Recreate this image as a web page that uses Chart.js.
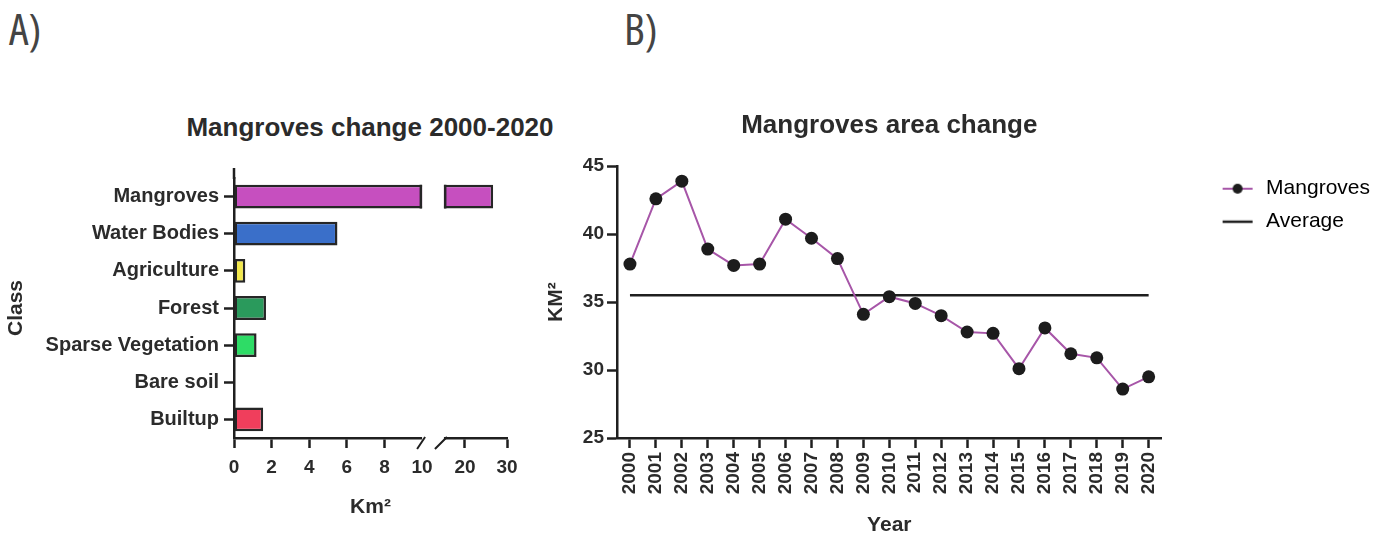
<!DOCTYPE html>
<html>
<head>
<meta charset="utf-8">
<script src="https://cdn.jsdelivr.net/npm/chart.js@4.4.1/dist/chart.umd.min.js"></script>
<style>
html,body{margin:0;padding:0;background:#fff;}
body{width:1396px;height:539px;position:relative;overflow:hidden;font-family:"Liberation Sans",Arial,sans-serif;}
.panel{position:absolute;top:6px;font-family:"Open Sans","Liberation Sans",sans-serif;font-weight:400;font-stretch:85%;font-size:44px;line-height:44px;color:#444;}
.ttl{position:absolute;top:112px;left:170px;width:400px;text-align:center;white-space:nowrap;font-size:26px;line-height:31px;font-weight:bold;color:#2b2b2b;}
#wrapA{position:absolute;left:0;top:0;width:540px;height:539px;}
#wrapB{position:absolute;left:540px;top:0;width:856px;height:539px;}
</style>
</head>
<body>
<div class="panel" style="left:9px">A)</div>
<div class="panel" style="left:624px">B)</div>
<div class="ttl">Mangroves change 2000-2020</div>
<div id="wrapA"><canvas id="classChart"></canvas></div>
<div id="wrapB"><canvas id="areaChart"></canvas></div>
<script>
/* data */
const classes=["Mangroves","Water Bodies","Agriculture","Forest","Sparse Vegetation","Bare soil","Builtup"];
const classArea=[26.7,5.5,0.6,1.7,1.2,0.05,1.55];
const classColors=["#C64FBF","#3A6FC9","#F2E84B","#2A9A5C","#2EDC66","#8a8a8a","#F03E5C"];
const kmTicks=[0,2,4,6,8,10,20,30];

const years=["2000","2001","2002","2003","2004","2005","2006","2007","2008","2009","2010",
"2011","2012","2013","2014","2015","2016","2017","2018","2019","2020"];
const mangroveArea=[37.8,42.6,43.9,38.9,37.7,37.8,41.1,39.7,38.2,34.1,35.4,
34.9,34.0,32.8,32.7,30.1,33.1,31.2,30.9,28.6,29.5];
const averageArea=35.5;
const areaTicks=[25,30,35,40,45];

const ink="#2b2b2b";
const axisInk="#1f1f1f";
const lineColor="#A756A8";
const dotColor="#1c1c1c";

Chart.defaults.font.family='"Liberation Sans", Arial, sans-serif';

/* ===== broken x axis (0-10 | 15-30) ===== */
const LinearScale=Chart.LinearScale||Chart.registry.getScale("linear");
const BREAK_FROM=10, BREAK_TO=15;
const FROM_FRAC=0.689, TO_FRAC=0.769;

class BrokenScale extends LinearScale{
  getPixelForValue(value){
    let f;
    if(value<=BREAK_FROM){
      f=(value-this.min)/(BREAK_FROM-this.min)*FROM_FRAC;
    }else if(value<BREAK_TO){
      f=FROM_FRAC+(value-BREAK_FROM)/(BREAK_TO-BREAK_FROM)*(TO_FRAC-FROM_FRAC);
    }else{
      f=TO_FRAC+(value-BREAK_TO)/(this.max-BREAK_TO)*(1-TO_FRAC);
    }
    return this.getPixelForDecimal(f);
  }
  getValueForPixel(pixel){
    const f=this.getDecimalForPixel(pixel);
    if(f<=FROM_FRAC) return this.min+f/FROM_FRAC*(BREAK_FROM-this.min);
    if(f<TO_FRAC) return BREAK_FROM+(f-FROM_FRAC)/(TO_FRAC-FROM_FRAC)*(BREAK_TO-BREAK_FROM);
    return BREAK_TO+(f-TO_FRAC)/(1-TO_FRAC)*(this.max-BREAK_TO);
  }
}
BrokenScale.id="broken";
BrokenScale.defaults=LinearScale.defaults;
Chart.register(BrokenScale);

const brokenAxisPlugin={
  id:"brokenAxis",
  afterDraw(chart){
    const {ctx,chartArea}=chart;
    const xs=chart.scales.x;
    const a=xs.getPixelForValue(BREAK_FROM);
    const b=xs.getPixelForValue(BREAK_TO);
    const ds=chart.data.datasets[0];
    const lw=ds.borderWidth;
    ctx.save();
    // white gap through bars and axis
    ctx.fillStyle="#fff";
    ctx.fillRect(a,chartArea.top-12,b-a,chartArea.bottom-chartArea.top+14);
    // close the bar ends on both sides of the gap
    ctx.strokeStyle=ds.borderColor;
    ctx.lineWidth=lw;
    chart.getDatasetMeta(0).data.forEach(bar=>{
      if(bar.x>b){
        const h=bar.height/2;
        ctx.beginPath();
        ctx.moveTo(a-lw/2,bar.y-h);ctx.lineTo(a-lw/2,bar.y+h);
        ctx.moveTo(b+lw/2,bar.y-h);ctx.lineTo(b+lw/2,bar.y+h);
        ctx.stroke();
      }
    });
    // break slashes
    const y0=chartArea.bottom;
    ctx.strokeStyle=axisInk;
    ctx.lineWidth=2;
    ctx.beginPath();
    ctx.moveTo(a-5,y0+11);ctx.lineTo(a+3,y0-1);
    ctx.moveTo(b-9,y0+11);ctx.lineTo(b+3,y0-1);
    ctx.stroke();
    // y axis line runs a bit above the first bar
    ctx.lineWidth=2.5;
    ctx.beginPath();
    ctx.moveTo(chartArea.left,chartArea.top-10);
    ctx.lineTo(chartArea.left,chartArea.top+1);
    ctx.stroke();
    ctx.restore();
  }
};

new Chart(document.getElementById("classChart"),{
  type:"bar",
  data:{
    labels:classes,
    datasets:[{
      data:classArea,
      backgroundColor:classColors,
      borderColor:"#262626",
      borderWidth:2.5,
      borderSkipped:false,
      barPercentage:0.64,
      categoryPercentage:1,
      clip:false
    }]
  },
  options:{
    indexAxis:"y",
    responsive:true,
    maintainAspectRatio:false,
    animation:false,
    layout:{padding:{top:178,right:33}},
    plugins:{
      legend:{display:false},
      tooltip:{enabled:false}
    },
    scales:{
      x:{
        type:"broken",
        min:0,
        max:30,
        afterBuildTicks:s=>{s.ticks=kmTicks.map(v=>({value:v}));},
        afterFit:s=>{s.height=101;},
        grid:{
          drawOnChartArea:false,
          tickLength:10,
          tickWidth:2.5,
          tickColor:c=>(c.tick&&c.tick.value===BREAK_FROM)?"rgba(0,0,0,0)":axisInk
        },
        border:{color:axisInk,width:2.5},
        ticks:{color:ink,font:{size:19,weight:"bold"},padding:8,maxRotation:0,autoSkip:false},
        title:{display:true,text:"Km²",color:ink,font:{size:21,weight:"bold"},padding:{top:4,bottom:19}}
      },
      y:{
        afterFit:s=>{s.width=234;},
        grid:{offset:false,drawOnChartArea:false,tickLength:10,tickWidth:2.5,tickColor:axisInk},
        border:{color:axisInk,width:2.5},
        ticks:{color:ink,font:{size:20,weight:"bold"},padding:5,autoSkip:false},
        title:{display:true,text:"Class",color:ink,font:{size:21,weight:"bold"},padding:{top:4,bottom:0}}
      }
    }
  },
  plugins:[brokenAxisPlugin]
});

/* ===== area change line chart ===== */
function legendMark(withDot){
  const c=document.createElement("canvas");
  c.width=36;c.height=14;
  const g=c.getContext("2d");
  g.lineWidth=withDot?2:2.5;
  g.strokeStyle=withDot?lineColor:axisInk;
  g.beginPath();g.moveTo(3,7);g.lineTo(33,7);g.stroke();
  if(withDot){
    g.fillStyle=dotColor;
    g.beginPath();g.arc(18,7,5,0,Math.PI*2);g.fill();
  }
  return c;
}
const legendMarks=[legendMark(true),legendMark(false)];

new Chart(document.getElementById("areaChart"),{
  type:"line",
  data:{
    labels:years,
    datasets:[
      {
        label:"Mangroves",
        data:mangroveArea,
        borderColor:lineColor,
        borderWidth:2,
        pointRadius:6.5,
        pointBackgroundColor:dotColor,
        pointBorderColor:dotColor,
        pointBorderWidth:0,
        tension:0,
        order:0
      },
      {
        label:"Average",
        data:[{x:years[0],y:averageArea},{x:years[years.length-1],y:averageArea}],
        borderColor:axisInk,
        borderWidth:2.5,
        pointRadius:0,
        order:1
      }
    ]
  },
  options:{
    responsive:true,
    maintainAspectRatio:false,
    animation:false,
    layout:{padding:{right:16}},
    plugins:{
      tooltip:{enabled:false},
      title:{
        display:true,
        text:"Mangroves area change",
        fullSize:false,
        color:ink,
        font:{size:26,weight:"bold"},
        padding:{top:110,bottom:25}
      },
      legend:{
        position:"right",
        align:"start",
        fullSize:false,
        maxWidth:260,
        labels:{
          usePointStyle:true,
          pointStyleWidth:36,
          padding:12,
          color:"#3a3a3a",
          font:{size:21},
          generateLabels:chart=>chart.data.datasets.map((ds,i)=>({
            text:ds.label,
            pointStyle:legendMarks[i],
            fillStyle:ds.borderColor,
            strokeStyle:ds.borderColor,
            lineWidth:0,
            hidden:false,
            datasetIndex:i
          }))
        }
      }
    },
    scales:{
      x:{
        offset:true,
        afterFit:s=>{s.height=101;},
        grid:{drawOnChartArea:false,tickLength:10,tickWidth:2.5,tickColor:axisInk},
        border:{color:axisInk,width:2.5},
        ticks:{color:ink,font:{size:19,weight:"bold"},minRotation:90,maxRotation:90,padding:4,autoSkip:false},
        title:{display:true,text:"Year",color:ink,font:{size:21,weight:"bold"},padding:{top:4,bottom:1}}
      },
      y:{
        min:25,
        max:45,
        afterBuildTicks:s=>{s.ticks=areaTicks.map(v=>({value:v}));},
        afterFit:s=>{s.width=77;},
        grid:{drawOnChartArea:false,tickLength:10,tickWidth:2.5,tickColor:axisInk},
        border:{color:axisInk,width:2.5},
        ticks:{color:ink,font:{size:19,weight:"bold"},padding:3},
        title:{display:true,text:"KM²",color:ink,font:{size:21,weight:"bold"},padding:{top:4,bottom:0}}
      },
      gap:{
        position:"right",
        display:true,
        grid:{display:false},
        border:{display:false},
        ticks:{display:false},
        afterFit:s=>{s.width=46;}
      }
    }
  }
});
</script>
</body>
</html>
